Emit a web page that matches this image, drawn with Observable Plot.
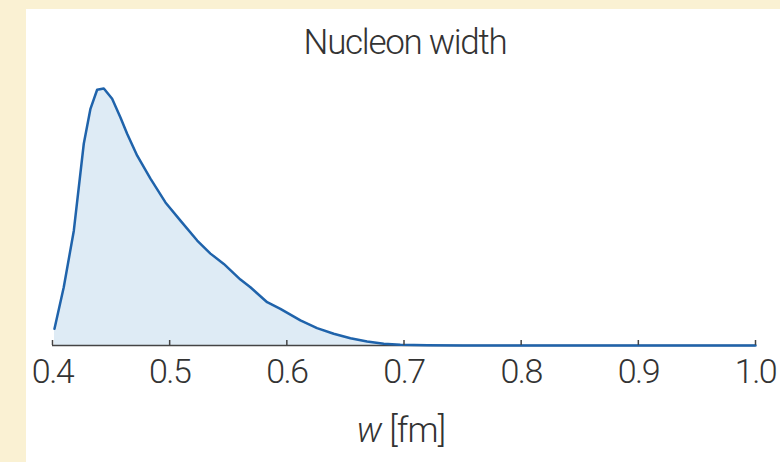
<!DOCTYPE html>
<html>
<head>
<meta charset="utf-8">
<script src="https://cdn.jsdelivr.net/npm/d3@7"></script>
<script src="https://cdn.jsdelivr.net/npm/@observablehq/plot@0.6"></script>
<style>
  html, body { margin: 0; padding: 0; }
  body { width: 780px; height: 462px; overflow: hidden; position: relative; background: #faf1d3; font-family: Roboto, "Noto Sans", sans-serif; }
  #panel { position: absolute; left: 26px; top: 9px; width: 754px; height: 453px; background: #ffffff; }
  #title { position: absolute; left: 405px; top: 25px; transform: translateX(-50%); font-size: 35px; line-height: 35px; font-weight: 300; color: #333; white-space: nowrap; letter-spacing: -1.3px; }
  #xlabel { position: absolute; left: 401px; top: 413px; transform: translateX(-50%); font-size: 35px; line-height: 35px; font-weight: 300; color: #333; white-space: nowrap; letter-spacing: -0.8px; }
  #chart { position: absolute; left: 0; top: 0; }
  g[aria-label="x-axis tick label"] text { letter-spacing: -1.5px; }
</style>
</head>
<body>
<div id="panel"></div>
<div id="chart"></div>
<div id="title">Nucleon width</div>
<div id="xlabel"><i>w</i> [fm]</div>
<script>
// Nucleon width w [fm] (x) and posterior density (arbitrary units, y)
const widths = [0.4017, 0.4096, 0.4182, 0.4267, 0.4324, 0.4381, 0.4438, 0.4509, 0.4580, 0.4637,
  0.4723, 0.4836, 0.4964, 0.5092, 0.5235, 0.5348, 0.5462, 0.5604, 0.5689, 0.5832,
  0.5945, 0.6116, 0.6258, 0.6400, 0.6543, 0.6685, 0.6827, 0.6969, 0.72, 0.75, 0.80, 0.90, 1.00];
const density = [0.78, 2.72, 5.36, 9.42, 11.05, 11.94, 12.00, 11.52, 10.65, 9.89,
  8.86, 7.79, 6.68, 5.83, 4.90, 4.29, 3.81, 3.08, 2.72, 2.02,
  1.71, 1.17, 0.81, 0.55, 0.34, 0.19, 0.08, 0.03, 0.015, 0.005, 0.001, 0, 0];
const xTicks = [0.4, 0.5, 0.6, 0.7, 0.8, 0.9, 1.0];

const data = widths.map((w, i) => ({w, d: density[i]}));

const chart = Plot.plot({
  width: 780,
  height: 462,
  marginLeft: 52,
  marginRight: 25,
  marginTop: 88,
  marginBottom: 117,
  style: {background: "transparent", color: "#333", fontFamily: "Roboto, 'Noto Sans', sans-serif"},
  x: {domain: [0.4, 1.0]},
  y: {domain: [0, 12], axis: null},
  marks: [
    Plot.areaY(data, {x: "w", y: "d", fill: "#deebf5"}),
    Plot.ruleY([0], {stroke: "#444", strokeWidth: 1.5}),
    Plot.lineY(data, {x: "w", y: "d", stroke: "#1f63ab", strokeWidth: 2.5, strokeLinejoin: "round"}),
    Plot.axisX({ticks: xTicks, tickSize: -5, tickPadding: 18, tickFormat: d3.format(".1f"),
      fontSize: 34, fontWeight: 300, stroke: "#444", strokeWidth: 1.5, label: null})
  ]
});
document.getElementById("chart").appendChild(chart);
</script>
</body>
</html>
